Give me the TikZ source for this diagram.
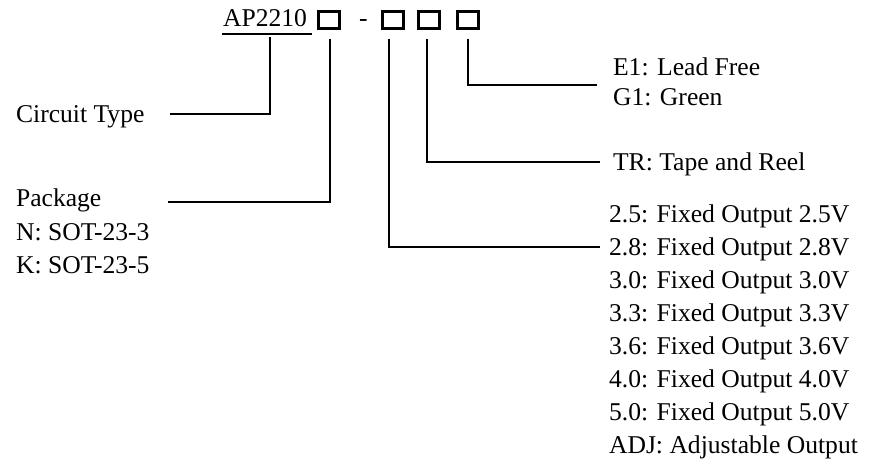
\documentclass[tikz,border=0pt]{standalone}
\usepackage{fontspec}
\setmainfont{Liberation Serif}
\usetikzlibrary{calc}

\begin{document}
\begin{tikzpicture}[x=0.4pt,y=-0.4pt,line width=0.85pt,
	lbl/.style={anchor=base west,inner sep=0pt,font=\fontsize{10.24pt}{12pt}\selectfont},
	slot/.style={draw,line width=1.2pt,minimum width=8.4pt,minimum height=6.6pt,inner sep=0pt}]
	\useasboundingbox (0,0) rectangle (873,466);
	%PART NUMBER
	\node[lbl] (ap) at (222,27) {AP2210};
	\draw ($(ap.base west)+(0,7)$) -- ($(ap.base east)+(4,7)$);
	\node[slot] (b1) at (328.5,20) {};
	\node[lbl] (dash) at (358,27) {-};
	\node[slot] (b2) at (392.5,20) {};
	\node[slot] (b3) at (428.5,20) {};
	\node[slot] (b4) at (467.5,20) {};
	
	%LEFT LABELS
	\node[lbl] (ct) at (15,122) {Circuit Type};
	\node[lbl] (pk) at (15,207) {Package};
	\node[lbl] (n) at (15,240) {N: SOT-23-3};
	\node[lbl] (k) at (15,273) {K: SOT-23-5};
	
	%RIGHT LABELS
	\node[lbl] (e1) at (612,76) {E1: Lead Free};
	\node[lbl] (g1) at (612,106) {G1: Green};
	\node[lbl] (tr) at (612,170) {TR: Tape and Reel};
	\foreach \v [count=\i] in {2.5,2.8,3.0,3.3,3.6,4.0,5.0}
		\node[lbl] (out\i) at (608,{222+33*(\i-1)}) {\v: Fixed Output \v V};
	\node[lbl] (adj) at (608,453) {ADJ: Adjustable Output};
	
	%LEADS
	\coordinate (ctend) at (170,114);
	\coordinate (pkend) at (168,202);
	\draw ($(ap.base west)+(48,10)$) |- (ctend);
	\draw ($(b1.south)+(1.5,9)$) |- (pkend);
	\draw ($(b2.south)+(-3.5,9)$) |- ($(out2.base west)+(-8,-8)$);
	\draw ($(b3.south)+(-1.5,9)$) |- ($(tr.base west)+(-12,-8)$);
	\draw ($(b4.south)+(0.5,9)$) |- ($(e1.base west)+(-15,9)$);
\end{tikzpicture}
\end{document}
